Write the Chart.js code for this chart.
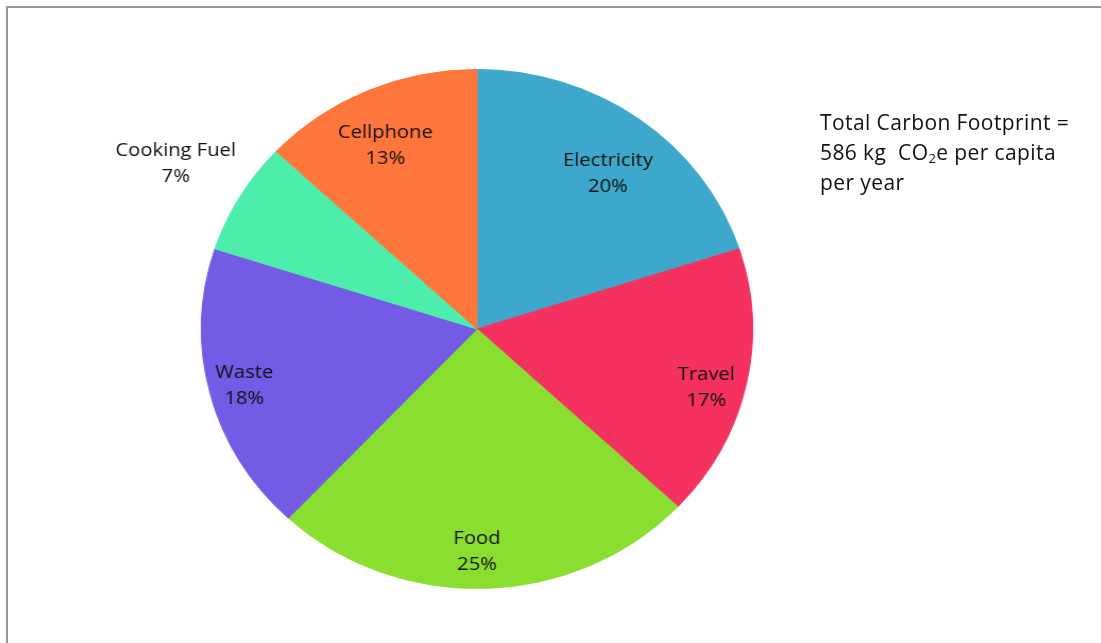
<!DOCTYPE html>
<html>
<head>
<meta charset="utf-8">
<script src="https://cdn.jsdelivr.net/npm/chart.js@4/dist/chart.umd.min.js"></script>
<style>
  html, body { margin: 0; padding: 0; background: #fff; }
  body { width: 1101px; height: 643px; position: relative; overflow: hidden; font-family: 'Open Sans', Lato, sans-serif; }
  #frame { position: absolute; left: 6px; top: 6px; right: -4px; bottom: -4px; border-left: 2px solid #8c9b93; border-top: 2px solid #8c9b93; }
  #pieWrap { position: absolute; left: 47px; top: 59px; width: 860px; height: 540px; transform: scaleX(1.062); transform-origin: 430px 270px; }
  #note { position: absolute; left: 820px; top: 107px; font-size: 21px; line-height: 30px; letter-spacing: 0.4px; color: #111; white-space: nowrap; }
  #note sub { font-size: 0.62em; vertical-align: -0.25em; line-height: 0; }
</style>
</head>
<body>
<div id="frame"></div>
<div id="pieWrap"><canvas id="footprintPie" width="860" height="540"></canvas></div>
<div id="note">Total Carbon Footprint =<br>586 kg &nbsp;CO<sub>2</sub>e per capita<br>per year</div>
<script>
const categories = ['Electricity', 'Travel', 'Food', 'Waste', 'Cooking Fuel', 'Cellphone'];
const shares = [20, 17, 25, 18, 7, 13];
const sliceColors = ['#3da8cb', '#f5315f', '#8ade30', '#745be6', '#4deeab', '#ff763c'];

// label placement: distance as a fraction of the radius, and a small turn (degrees) off the slice middle
const labelRadius = [0.772, 0.86, 0.85, 0.87, 1.27, 0.79];
const labelTurn = [2, 2, 1.8, 0.5, 0, -1.5];

const sliceLabels = {
  id: 'sliceLabels',
  afterDatasetsDraw(chart) {
    const ctx = chart.ctx;
    const meta = chart.getDatasetMeta(0);
    ctx.save();
    ctx.font = '19px "Open Sans", Lato, sans-serif';
    ctx.fillStyle = '#111';
    ctx.textAlign = 'center';
    ctx.textBaseline = 'middle';
    meta.data.forEach((arc, i) => {
      const p = arc.getProps(['x', 'y', 'startAngle', 'endAngle', 'outerRadius'], true);
      const mid = (p.startAngle + p.endAngle) / 2 + labelTurn[i] * Math.PI / 180;
      const r = p.outerRadius * labelRadius[i];
      const x = p.x + Math.cos(mid) * r;
      const y = p.y + Math.sin(mid) * r + 2.5;
      ctx.fillText(categories[i], x, y - 13);
      ctx.fillText(shares[i] + '%', x, y + 13);
    });
    ctx.restore();
  }
};

new Chart(document.getElementById('footprintPie'), {
  type: 'pie',
  data: {
    labels: categories,
    datasets: [{
      data: shares,
      backgroundColor: sliceColors,
      borderColor: sliceColors,
      borderWidth: 1
    }]
  },
  options: {
    responsive: false,
    animation: false,
    layout: { padding: { top: 10, bottom: 10, left: 170, right: 170 } },
    plugins: { legend: { display: false }, tooltip: { enabled: false } }
  },
  plugins: [sliceLabels]
});
</script>
</body>
</html>
